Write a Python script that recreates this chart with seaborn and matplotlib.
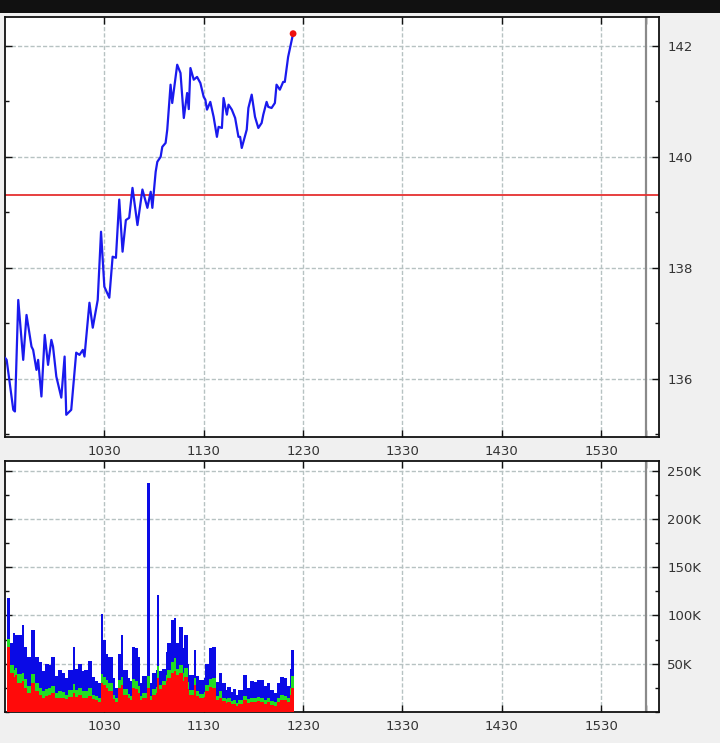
import numpy as np
import matplotlib
matplotlib.use("Agg")
import matplotlib.pyplot as plt
from matplotlib.ticker import FixedLocator, MultipleLocator, FuncFormatter
import seaborn as sns

# --- price (minutes after 9:30 open) ---
price_min = [0, 1, 5, 6, 8, 11, 13, 16, 17, 19, 20, 22, 24, 26, 28, 29, 31, 34, 36, 37,
             40, 43, 45, 47, 48, 51, 53, 56, 58, 60, 63, 65, 67, 69, 71, 73, 75, 77, 80, 83,
             86, 88, 89, 91, 92, 94, 95, 97, 98, 100, 101, 104, 106, 108, 110, 111, 112, 114,
             116, 118, 120, 121, 122, 124, 126, 128, 129, 131, 132, 134, 135, 137, 139, 141,
             142, 143, 146, 147, 149, 151, 153, 155, 156, 158, 159, 161, 163, 164, 166, 168,
             169, 171, 174]
price = [136.38, 136.34, 135.44, 135.41, 137.42, 136.34, 137.15, 136.58, 136.52, 136.16,
         136.34, 135.68, 136.79, 136.25, 136.70, 136.58, 136.04, 135.66, 136.40, 135.35,
         135.44, 136.47, 136.43, 136.52, 136.40, 137.37, 136.92, 137.42, 138.65, 137.66,
         137.46, 138.20, 138.18, 139.23, 138.29, 138.86, 138.90, 139.44, 138.77, 139.41,
         139.08, 139.37, 139.08, 139.73, 139.91, 140.00, 140.18, 140.25, 140.49, 141.30,
         140.97, 141.66, 141.51, 140.70, 141.15, 140.86, 141.60, 141.39, 141.44, 141.33,
         141.08, 141.03, 140.85, 140.99, 140.72, 140.36, 140.54, 140.52, 141.06, 140.76,
         140.94, 140.85, 140.70, 140.36, 140.36, 140.16, 140.49, 140.88, 141.12, 140.72,
         140.52, 140.61, 140.76, 140.99, 140.90, 140.88, 140.97, 141.30, 141.21, 141.35,
         141.35, 141.80, 142.22]
ref_price = 139.32

# --- volume (thousands) ---
vol_min = [1, 3, 5, 6, 7, 10, 11, 13, 16, 18, 20, 22, 24, 26, 28, 30, 32, 34, 36, 38,
           41, 42, 44, 46, 48, 50, 52, 54, 56, 58, 59, 61, 62, 65, 66, 68, 70, 71, 74, 75,
           77, 78, 80, 81, 83, 86, 87, 89, 91, 92, 93, 95, 97, 98, 100, 102, 103, 105, 107,
           108, 110, 111, 114, 115, 117, 120, 121, 123, 125, 127, 129, 131, 133, 134, 136,
           138, 139, 141, 144, 146, 148, 150, 152, 154, 156, 158, 160, 162, 164, 166, 168,
           170, 172, 173]
vol_total = [118, 71, 82, 80, 80, 90, 67, 57, 85, 57, 52, 42, 50, 49, 57, 37, 43, 40, 35, 43,
             67, 45, 50, 42, 43, 53, 36, 32, 30, 102, 75, 60, 57, 35, 25, 60, 80, 43, 35, 32,
             67, 66, 57, 30, 37, 237, 30, 40, 43, 121, 42, 45, 62, 71, 95, 97, 71, 88, 66,
             80, 50, 38, 64, 37, 33, 35, 50, 66, 67, 31, 40, 30, 23, 26, 21, 24, 18, 23, 38,
             25, 32, 31, 33, 33, 27, 30, 23, 20, 30, 36, 35, 27, 45, 64]
vol_green = [76, 49, 44, 46, 39, 40, 34, 27, 39, 30, 25, 22, 24, 25, 27, 20, 22, 21, 18, 23,
             29, 23, 25, 22, 22, 25, 18, 17, 15, 39, 36, 33, 30, 18, 14, 33, 36, 24, 19, 17,
             34, 32, 27, 17, 20, 37, 17, 24, 26, 48, 28, 32, 38, 43, 52, 56, 45, 49, 40,
             46, 31, 23, 35, 22, 19, 21, 28, 34, 35, 17, 22, 15, 13, 14, 11, 12, 9, 12, 17,
             13, 15, 14, 16, 15, 12, 14, 11, 10, 15, 18, 17, 14, 25, 37]
vol_red = [67, 40, 36, 38, 30, 32, 25, 20, 30, 22, 18, 15, 17, 18, 20, 14, 15, 15, 13, 16,
           20, 16, 18, 15, 15, 17, 13, 12, 10, 30, 28, 25, 22, 13, 10, 25, 28, 18, 14, 12,
           25, 24, 20, 12, 15, 25, 12, 18, 20, 35, 24, 28, 32, 35, 40, 42, 38, 40, 32,
           36, 24, 18, 28, 17, 15, 16, 22, 26, 25, 12, 15, 11, 9, 10, 8, 8, 6, 8, 12,
           9, 10, 10, 11, 10, 8, 10, 7, 6, 10, 12, 12, 10, 18, 25]

tick_min = [60, 120, 180, 240, 300, 360]
tick_labels = ["1030", "1130", "1230", "1330", "1430", "1530"]
close_min = 387

sns.set_style("white")
plt.rcParams["font.family"] = ["DejaVu Sans"]

W, H = 720, 743
fig = plt.figure(figsize=(W / 100, H / 100), dpi=100, facecolor="#f0f0f0")

# black band across the top
band = fig.add_axes([0, 1 - 13 / H, 1, 13 / H])
band.set_facecolor("#111111")
band.set_xticks([])
band.set_yticks([])
for s in band.spines.values():
    s.set_visible(False)


def frame(x0, y0, x1, y1):
    return [x0 / W, 1 - y1 / H, (x1 - x0) / W, (y1 - y0) / H]


ax1 = fig.add_axes(frame(5, 17, 659, 437))
ax2 = fig.add_axes(frame(5, 461, 659, 712))

grid_kw = dict(color="#b7c2c2", linestyle=(0, (3, 1.5)), linewidth=1.0)

for ax in (ax1, ax2):
    ax.set_facecolor("white")
    ax.set_xlim(0, 395)
    ax.xaxis.set_major_locator(FixedLocator(tick_min + [close_min]))
    ax.set_xticklabels(tick_labels + [""])
    ax.yaxis.tick_right()
    ax.tick_params(axis="both", which="both", direction="in", top=True, bottom=True,
                   left=True, right=True, labelleft=False, labelright=True,
                   colors="#111111", labelcolor="#333333", labelsize=9.5, pad=6)
    ax.tick_params(which="major", length=5, width=1)
    ax.tick_params(which="minor", length=3, width=1)
    for s in ax.spines.values():
        s.set_color("#111111")
        s.set_linewidth(1.3)
    ax.set_axisbelow(True)
    ax.axvline(close_min, color="#8a8a8a", linewidth=1.6, zorder=1)

# --- price panel ---
ax1.set_ylim(134.95, 142.52)
ax1.yaxis.set_major_locator(FixedLocator([136, 138, 140, 142]))
ax1.yaxis.set_minor_locator(MultipleLocator(1))
for t in tick_min:
    ax1.axvline(t, **grid_kw, zorder=0)
for v in [136, 138, 140, 142]:
    ax1.axhline(v, **grid_kw, zorder=0)
ax1.axhline(ref_price, color="#e53030", linewidth=1.3, zorder=2)
sns.lineplot(x=price_min, y=price, ax=ax1, color="#1a1aee", linewidth=1.6, zorder=3)
sns.scatterplot(x=[price_min[-1]], y=[price[-1]], ax=ax1, color="#ee1111", s=24,
                edgecolor="none", zorder=4)
ax1.set_xlabel("")
ax1.set_ylabel("")

# --- volume panel: total (blue), then green and red portions drawn over it ---
vt = np.array(vol_min, dtype=float)
widths = np.append(np.diff(vt), 1.5) + 0.3
for vals, col in [(vol_total, "#0a0ae6"), (vol_green, "#22dd22"), (vol_red, "#ff0a0a")]:
    ax2.bar(vt, np.array(vals) * 1000, width=widths, align="edge", color=col,
            linewidth=0, zorder=3)
ax2.set_ylim(0, 260000)
ax2.yaxis.set_major_locator(FixedLocator([50000, 100000, 150000, 200000, 250000]))
ax2.yaxis.set_minor_locator(MultipleLocator(25000))
ax2.yaxis.set_major_formatter(FuncFormatter(lambda v, p: f"{int(v / 1000)}K"))
for t in tick_min:
    ax2.axvline(t, **grid_kw, zorder=0)
for v in [50000, 100000, 150000, 200000, 250000]:
    ax2.axhline(v, **grid_kw, zorder=0)

fig.savefig("out.png", dpi=100, facecolor=fig.get_facecolor())
